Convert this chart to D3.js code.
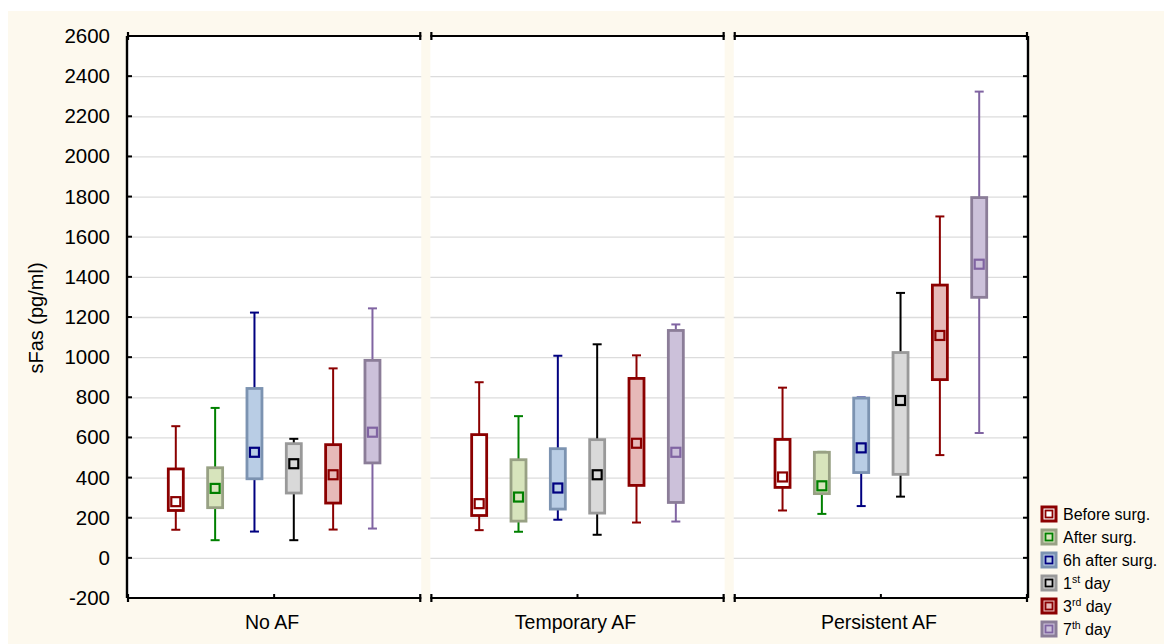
<!DOCTYPE html>
<html>
<head>
<meta charset="utf-8">
<script src="https://cdn.jsdelivr.net/npm/d3@7"></script>
<style>
  body { margin: 0; background: #ffffff; }
  svg { display: block; font-family: "Liberation Sans", Arial, sans-serif; }
</style>
</head>
<body>
<svg id="chart" width="1164" height="644"></svg>
<script>
// groups on the x axis, series inside each group
var groups = ["No AF", "Temporary AF", "Persistent AF"];
var series = ["Before surg.", "After surg.", "6h after surg.", "1st day", "3rd day", "7th day"];

// one row per group, one value per series (pg/ml)
var whiskerHigh = [
  [656, 747, 1222, 593, 944, 1243],
  [875, 706, 1007, 1064, 1009, 1163],
  [848, 528, 799, 1320, 1701, 2323]
];
var boxHigh = [
  [443, 449, 844, 569, 564, 984],
  [614, 489, 544, 589, 894, 1133],
  [590, 526, 796, 1023, 1359, 1795]
];
var middle = [
  [280, 346, 526, 469, 414, 626],
  [270, 303, 348, 414, 571, 526],
  [403, 359, 548, 784, 1108, 1463]
];
var boxLow = [
  [236, 250, 394, 323, 273, 473],
  [211, 183, 243, 223, 361, 276],
  [351, 320, 425, 416, 888, 1298]
];
var whiskerLow = [
  [140, 88, 131, 88, 141, 146],
  [138, 130, 190, 115, 176, 181],
  [236, 219, 258, 305, 512, 622]
];
var yTicks = [-200, 0, 200, 400, 600, 800, 1000, 1200, 1400, 1600, 1800, 2000, 2200, 2400, 2600];

// styling per series
var boxFill   = ["#ffffff", "#d7e4bc", "#b9cde5", "#d9d9d9", "#e6b9b8", "#ccc1da"];
var boxStroke = ["#8b0000", "#98a184", "#7c93b1", "#999999", "#8b0000", "#8b7d98"];
var lineColor = ["#8b0000", "#008000", "#000080", "#000000", "#8b0000", "#8064a2"];

var svg = d3.select("#chart");

// cream backdrop
svg.append("rect").attr("x", 8).attr("y", 11).attr("width", 1156).attr("height", 633)
  .attr("fill", "#fdf9ee");

var y = d3.scaleLinear().domain([-200, 2600]).range([598, 36]);
var xPanel = d3.scaleBand().domain(groups).range([127, 1028]).paddingInner(0.03);
var xSeries = d3.scalePoint().domain(series).range([-118, 118]).padding(0.5);

var boxW = 15, capW = 9, markW = 9;

groups.forEach(function(g, gi) {
  var x0 = xPanel(g), bw = xPanel.bandwidth(), cx = x0 + bw / 2;
  var panel = svg.append("g").attr("class", "panel");

  panel.append("rect").attr("x", x0).attr("y", y(2600)).attr("width", bw)
    .attr("height", y(-200) - y(2600)).attr("fill", "#ffffff");

  // grid
  panel.selectAll("line.grid").data(yTicks.filter(function(t) { return t > -200 && t < 2600; }))
    .enter().append("line").attr("class", "grid")
      .attr("x1", x0).attr("x2", x0 + bw)
      .attr("y1", function(d) { return y(d) + 0.5; })
      .attr("y2", function(d) { return y(d) + 0.5; })
      .attr("stroke", "#dcdcdc").attr("stroke-width", 1.3);

  // top and bottom frame with end caps
  [y(2600), y(-200)].forEach(function(yy) {
    panel.append("line").attr("x1", x0).attr("x2", x0 + bw).attr("y1", yy).attr("y2", yy)
      .attr("stroke", "#000").attr("stroke-width", 2.2);
    panel.append("line").attr("x1", x0 + 1).attr("x2", x0 + 1).attr("y1", yy - 4).attr("y2", yy + 4)
      .attr("stroke", "#000").attr("stroke-width", 2.2);
    panel.append("line").attr("x1", x0 + bw - 1).attr("x2", x0 + bw - 1).attr("y1", yy - 4).attr("y2", yy + 4)
      .attr("stroke", "#000").attr("stroke-width", 2.2);
  });
  // middle tick on bottom
  panel.append("line").attr("x1", cx).attr("x2", cx).attr("y1", y(-200)).attr("y2", y(-200) - 4)
    .attr("stroke", "#000").attr("stroke-width", 2);

  panel.append("text").attr("x", cx - 2).attr("y", 629).attr("text-anchor", "middle")
    .attr("font-size", 19.5).attr("fill", "#000").text(g);

  var items = series.map(function(s, si) {
    return { s: s, si: si, x: cx + xSeries(s),
      wh: whiskerHigh[gi][si], bh: boxHigh[gi][si], m: middle[gi][si],
      bl: boxLow[gi][si], wl: whiskerLow[gi][si] };
  });

  var box = panel.selectAll("g.box").data(items).enter().append("g").attr("class", "box");

  box.append("line")
    .attr("x1", function(d) { return d.x; }).attr("x2", function(d) { return d.x; })
    .attr("y1", function(d) { return y(d.wh); }).attr("y2", function(d) { return y(d.wl); })
    .attr("stroke", function(d) { return lineColor[d.si]; }).attr("stroke-width", 2);
  box.append("line")
    .attr("x1", function(d) { return d.x - capW / 2; }).attr("x2", function(d) { return d.x + capW / 2; })
    .attr("y1", function(d) { return y(d.wh); }).attr("y2", function(d) { return y(d.wh); })
    .attr("stroke", function(d) { return lineColor[d.si]; }).attr("stroke-width", 2);
  box.append("line")
    .attr("x1", function(d) { return d.x - capW / 2; }).attr("x2", function(d) { return d.x + capW / 2; })
    .attr("y1", function(d) { return y(d.wl); }).attr("y2", function(d) { return y(d.wl); })
    .attr("stroke", function(d) { return lineColor[d.si]; }).attr("stroke-width", 2);
  box.append("rect")
    .attr("x", function(d) { return d.x - boxW / 2; }).attr("width", boxW)
    .attr("y", function(d) { return y(d.bh); })
    .attr("height", function(d) { return y(d.bl) - y(d.bh); })
    .attr("fill", function(d) { return boxFill[d.si]; })
    .attr("stroke", function(d) { return boxStroke[d.si]; }).attr("stroke-width", 2.8);
  box.append("rect")
    .attr("x", function(d) { return d.x - markW / 2; }).attr("width", markW)
    .attr("y", function(d) { return y(d.m) - markW / 2; }).attr("height", markW)
    .attr("fill", function(d) { return boxFill[d.si]; })
    .attr("stroke", function(d) { return lineColor[d.si]; }).attr("stroke-width", 2.2);
});

// left axis
var left = svg.append("g").attr("transform", "translate(127,0)");
left.append("line").attr("x1", 0).attr("x2", 0).attr("y1", y(2600)).attr("y2", y(-200))
  .attr("stroke", "#000").attr("stroke-width", 2.4);
left.selectAll("line.tick").data(yTicks).enter().append("line")
  .attr("x1", 0).attr("x2", 5).attr("y1", function(d) { return y(d); }).attr("y2", function(d) { return y(d); })
  .attr("stroke", "#000").attr("stroke-width", 2);
left.selectAll("text").data(yTicks).enter().append("text")
  .attr("x", -17).attr("y", function(d) { return y(d) + 7; })
  .attr("text-anchor", "end").attr("font-size", 20.5).text(function(d) { return d; });

// right axis
var rx = xPanel(groups[2]) + xPanel.bandwidth();
var right = svg.append("g").attr("transform", "translate(" + rx + ",0)");
right.append("line").attr("x1", 0).attr("x2", 0).attr("y1", y(2600)).attr("y2", y(-200))
  .attr("stroke", "#000").attr("stroke-width", 2.4);
right.selectAll("line.tick").data(yTicks).enter().append("line")
  .attr("x1", 0).attr("x2", -5).attr("y1", function(d) { return y(d); }).attr("y2", function(d) { return y(d); })
  .attr("stroke", "#000").attr("stroke-width", 2);

svg.append("text").attr("transform", "translate(43,318) rotate(-90)")
  .attr("text-anchor", "middle").attr("font-size", 20).text("sFas (pg/ml)");

// legend
var legendLabels = [["Before surg.", ""], ["After surg.", ""], ["6h after surg.", ""],
                    ["1", "st", " day"], ["3", "rd", " day"], ["7", "th", " day"]];
var leg = svg.append("g").attr("transform", "translate(1042,514)");
series.forEach(function(s, si) {
  var g = leg.append("g").attr("transform", "translate(0," + si * 23 + ")");
  g.append("rect").attr("x", 0).attr("y", -7).attr("width", 14).attr("height", 14)
    .attr("fill", boxFill[si]).attr("stroke", boxStroke[si]).attr("stroke-width", 3);
  g.append("rect").attr("x", 3.5).attr("y", -3.5).attr("width", 7).attr("height", 7)
    .attr("fill", boxFill[si]).attr("stroke", lineColor[si]).attr("stroke-width", 1.8);
  var t = g.append("text").attr("x", 21).attr("y", 6).attr("font-size", 16);
  var lab = legendLabels[si];
  if (lab.length === 3) {
    t.append("tspan").text(lab[0]);
    t.append("tspan").attr("font-size", 10.5).attr("dy", -6).text(lab[1]);
    t.append("tspan").attr("dy", 6).text(lab[2]);
  } else {
    t.append("tspan").text(lab[0]);
  }
});
</script>
</body>
</html>
